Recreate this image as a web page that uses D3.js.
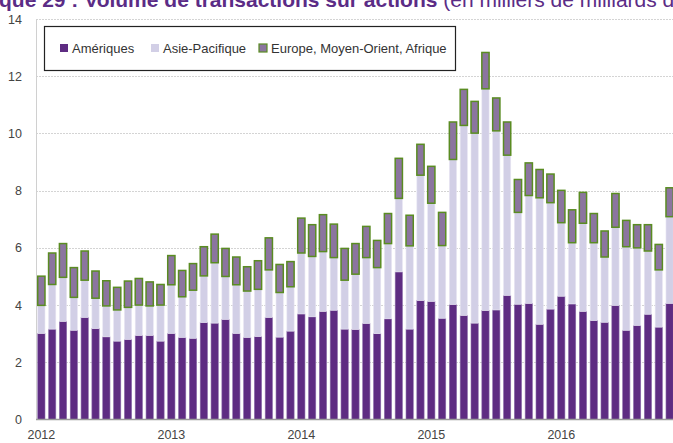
<!DOCTYPE html>
<html>
<head>
<meta charset="utf-8">
<script src="https://cdn.jsdelivr.net/npm/d3@7"></script>
<style>
  body { margin: 0; background: #fff; }
  svg { display: block; font-family: Arial, "Liberation Sans", sans-serif; }
</style>
</head>
<body>
<svg id="chart" width="673" height="443"></svg>
<script>
// monthly values, Jan 2012 - Nov 2016 (thousands of billions of dollars)
var months = d3.range(59).map(function (i) {
    return (2012 + Math.floor(i / 12)) + "-" + d3.format("02")(i % 12 + 1);
});
var yearLabels = ["2012", "2013", "2014", "2015", "2016"];

var ameriques = [3.01, 3.16, 3.43, 3.12, 3.57, 3.18, 2.89, 2.74, 2.80, 2.94, 2.94, 2.74,
                 3.01, 2.87, 2.84, 3.39, 3.37, 3.50, 3.01, 2.87, 2.90, 3.57, 2.88, 3.09,
                 3.69, 3.59, 3.78, 3.82, 3.16, 3.15, 3.36, 3.00, 3.52, 5.16, 3.16, 4.16,
                 4.13, 3.54, 4.02, 3.64, 3.37, 3.81, 3.83, 4.34, 4.03, 4.06, 3.33, 3.86,
                 4.31, 4.04, 3.78, 3.46, 3.40, 3.99, 3.12, 3.29, 3.68, 3.23, 4.06];
var asiePacifique = [0.98, 1.56, 1.54, 1.15, 1.30, 1.06, 1.08, 1.09, 1.12, 1.06, 1.03, 1.26,
                     1.70, 1.42, 1.68, 1.63, 2.11, 1.50, 1.70, 1.62, 1.65, 1.66, 1.56, 1.55,
                     2.13, 2.11, 2.09, 1.84, 1.71, 1.93, 2.30, 2.31, 2.63, 2.57, 2.91, 4.38,
                     3.43, 2.54, 5.07, 6.64, 6.64, 7.75, 6.26, 4.90, 3.21, 3.77, 4.42, 3.72,
                     2.57, 2.14, 3.08, 2.72, 2.28, 2.73, 2.92, 2.71, 2.21, 2.00, 3.03];
var emea = [1.02, 1.10, 1.18, 1.04, 1.02, 0.95, 0.88, 0.79, 0.92, 0.93, 0.84, 0.72,
            1.02, 0.92, 0.93, 1.02, 1.00, 0.98, 0.97, 0.85, 1.00, 1.12, 0.98, 0.88,
            1.22, 1.11, 1.29, 1.17, 1.11, 1.07, 1.09, 0.95, 1.05, 1.40, 1.07, 1.08,
            1.29, 1.16, 1.31, 1.26, 1.11, 1.27, 1.15, 1.16, 1.15, 1.14, 0.99, 1.00,
            1.13, 1.15, 1.08, 1.02, 0.91, 1.18, 0.92, 0.81, 0.92, 0.89, 1.01];

var seriesNames = ["Amériques", "Asie-Pacifique", "Europe, Moyen-Orient, Afrique"];
var yTicks = [0, 2, 4, 6, 8, 10, 12, 14];

var styles = {
    "Amériques": { fill: "#5e2c82", stroke: "#8d6fab", width: 0.6 },
    "Asie-Pacifique": { fill: "#d2cfe6", stroke: "#e9e7f3", width: 0.6 },
    "Europe, Moyen-Orient, Afrique": { fill: "#8b759f", stroke: "#5a8c22", width: 1.5 }
};

var rows = months.map(function (m, i) {
    return {
        month: m,
        "Amériques": ameriques[i],
        "Asie-Pacifique": asiePacifique[i],
        "Europe, Moyen-Orient, Afrique": emea[i]
    };
});

var svg = d3.select("#chart");
var left = 36, zeroY = 419.5, step = 10.83;

var x = d3.scaleBand()
    .domain(months)
    .range([left, left + months.length * step])
    .paddingInner(0.33)
    .paddingOuter(0.16);

var y = d3.scaleLinear()
    .domain([0, 14])
    .range([zeroY, 19]);

// title, cut at the top of the picture
var title = svg.append("text")
    .attr("y", 7)
    .attr("font-size", 21)
    .attr("fill", "#5b2c86");
title.append("tspan")
    .attr("font-weight", "bold")
    .text("Graphique 29 : Volume de transactions sur actions ");
title.append("tspan")
    .text("(en milliers de milliards de dollars)");

var probe = svg.append("text")
    .attr("font-size", 21)
    .attr("font-weight", "bold")
    .text("Graphi");
var shift = probe.node().getComputedTextLength();
probe.remove();
title.attr("x", -shift - 1);

// gridlines
svg.append("g")
    .selectAll("line")
    .data(yTicks.filter(function (t) { return t > 0; }))
    .join("line")
        .attr("x1", left)
        .attr("x2", 673)
        .attr("y1", function (t) { return Math.round(y(t)) + 0.5; })
        .attr("y2", function (t) { return Math.round(y(t)) + 0.5; })
        .attr("stroke", "#d4d4d4")
        .attr("stroke-dasharray", "2,1");

// y axis
var yAxis = svg.append("g")
    .attr("transform", "translate(" + left + ",0)")
    .call(d3.axisLeft(y).tickValues(yTicks).tickSize(0).tickPadding(14));
yAxis.select(".domain").attr("stroke", "#d0d0d0");
yAxis.selectAll("text")
    .attr("font-size", 12.5)
    .attr("fill", "#444")
    .attr("font-family", "Arial, 'Liberation Sans', sans-serif");

// stacked bars
var stack = d3.stack().keys(seriesNames)(rows);

svg.append("g")
    .selectAll("g")
    .data(stack)
    .join("g")
        .each(function (s) {
            var st = styles[s.key];
            d3.select(this).selectAll("rect")
                .data(s)
                .join("rect")
                    .attr("x", function (d) { return x(d.data.month); })
                    .attr("width", x.bandwidth())
                    .attr("y", function (d) { return y(d[1]); })
                    .attr("height", function (d) { return y(d[0]) - y(d[1]); })
                    .attr("fill", st.fill)
                    .attr("stroke", st.stroke)
                    .attr("stroke-width", st.width);
        });

// x axis
var xAxis = svg.append("g")
    .attr("transform", "translate(0," + zeroY + ")")
    .call(d3.axisBottom(x)
        .tickValues(months.filter(function (m) { return m.slice(5) === "01"; }))
        .tickFormat(function (m) { return yearLabels[yearLabels.indexOf(m.slice(0, 4))]; })
        .tickSize(0)
        .tickPadding(11));
xAxis.select(".domain").attr("stroke", "#9a9a9a").attr("stroke-width", 1.5)
    .attr("d", "M" + left + ",0H673");
xAxis.selectAll("text")
    .attr("font-size", 12.5)
    .attr("fill", "#444")
    .attr("font-family", "Arial, 'Liberation Sans', sans-serif");

// legend
var legend = svg.append("g");
legend.append("rect")
    .attr("x", 44.5)
    .attr("y", 26.5)
    .attr("width", 411)
    .attr("height", 44)
    .attr("fill", "#fff")
    .attr("stroke", "#222")
    .attr("stroke-width", 1.2);

var legendX = [60, 151, 259];
var items = legend.selectAll("g.item")
    .data(seriesNames)
    .join("g")
        .attr("class", "item")
        .attr("transform", function (d, i) { return "translate(" + legendX[i] + ",44)"; });
items.append("rect")
    .attr("width", 8)
    .attr("height", 8)
    .attr("fill", function (d) { return styles[d].fill; })
    .attr("stroke", function (d) { return d === seriesNames[2] ? styles[d].stroke : "none"; })
    .attr("stroke-width", 1.2);
items.append("text")
    .attr("x", 12)
    .attr("y", 9)
    .attr("font-size", 13)
    .attr("fill", "#333")
    .text(function (d) { return d; });
</script>
</body>
</html>
